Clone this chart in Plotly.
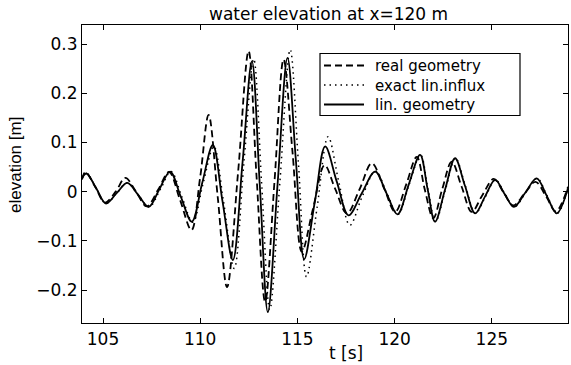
import plotly.graph_objects as go

# ---- data (t [s], elevation [m]) ----
t_real = [103.92, 104.1, 104.6, 105.1, 105.65, 106.15, 106.7, 107.25, 107.85, 108.4,
          108.95, 109.55, 110.0, 110.43, 110.9, 111.38, 111.95, 112.49, 112.9, 113.34,
          113.82, 114.29, 114.75, 115.23, 115.8, 116.4, 116.95, 117.55, 118.2, 118.83,
          119.45, 120.03, 120.6, 121.14, 121.55, 121.99, 122.45, 122.94, 123.45, 123.97,
          124.5, 125.1, 125.6, 126.1, 126.7, 127.25, 127.8, 128.3, 128.92]
y_real = [0.025, 0.04, 0.01, -0.022, 0.0, 0.028, 0.0, -0.03, 0.005, 0.04,
          -0.015, -0.078, 0.03, 0.156, -0.01, -0.194, 0.04, 0.286, 0.03, -0.224,
          0.02, 0.269, 0.08, -0.122, -0.035, 0.054, 0.005, -0.044, 0.005, 0.058,
          0.008, -0.041, 0.015, 0.071, 0.005, -0.054, 0.005, 0.061, 0.01, -0.041,
          -0.008, 0.026, -0.001, -0.028, -0.003, 0.02, -0.01, -0.04, 0.01]

t_exact = [103.92, 104.15, 104.65, 105.15, 105.7, 106.25, 106.8, 107.38, 107.95, 108.5,
           109.05, 109.62, 110.15, 110.7, 111.2, 111.75, 112.25, 112.75, 113.17, 113.58,
           114.1, 114.63, 115.05, 115.47, 116.02, 116.58, 117.13, 117.7, 118.35, 119.02,
           119.6, 120.17, 120.75, 121.33, 121.72, 122.1, 122.62, 123.13, 123.64, 124.16,
           124.67, 125.19, 125.67, 126.16, 126.74, 127.33, 127.84, 128.36, 128.92]
y_exact = [0.028, 0.037, 0.007, -0.024, -0.003, 0.018, -0.006, -0.031, 0.005, 0.041,
           -0.01, -0.062, 0.017, 0.092, -0.02, -0.156, 0.06, 0.27, 0.01, -0.24,
           0.02, 0.289, 0.06, -0.173, -0.03, 0.112, 0.02, -0.068, -0.008, 0.042,
           -0.003, -0.046, 0.015, 0.075, 0.005, -0.061, 0.005, 0.068, 0.012, -0.044,
           -0.01, 0.024, -0.004, -0.031, -0.002, 0.027, -0.008, -0.044, 0.007]

t_lin = [103.92, 104.15, 104.65, 105.15, 105.7, 106.25, 106.8, 107.35, 107.9, 108.45,
         109.0, 109.57, 110.1, 110.65, 111.15, 111.68, 112.18, 112.66, 113.07, 113.48,
         113.98, 114.49, 114.92, 115.35, 115.9, 116.43, 117.03, 117.63, 118.3, 119.0,
         119.58, 120.15, 120.73, 121.31, 121.7, 122.08, 122.6, 123.11, 123.62, 124.14,
         124.65, 125.17, 125.65, 126.14, 126.72, 127.31, 127.82, 128.34, 128.92]
y_lin = [0.028, 0.037, 0.007, -0.024, -0.003, 0.018, -0.006, -0.031, 0.005, 0.041,
         -0.01, -0.061, 0.017, 0.095, -0.02, -0.139, 0.06, 0.265, 0.01, -0.245,
         0.015, 0.272, 0.065, -0.137, -0.02, 0.092, 0.02, -0.048, -0.004, 0.041,
         -0.003, -0.046, 0.015, 0.075, 0.005, -0.061, 0.005, 0.068, 0.012, -0.044,
         -0.01, 0.024, -0.004, -0.031, -0.002, 0.027, -0.008, -0.044, 0.007]

series_names = ["real geometry", "exact lin.influx", "lin. geometry"]
x_ticks = [105, 110, 115, 120, 125]
y_ticks = [-0.2, -0.1, 0, 0.1, 0.2, 0.3]
y_ticklabels = ["\u22120.2", "\u22120.1", "0", "0.1", "0.2", "0.3"]

FONT = "DejaVu Sans"
LEG_SIZE = 15

# plot area in pixels (for converting layout positions)
L, R, T, B = 82, 568, 25, 323
W, H = R - L, B - T


def px(x):
    return (x - L) / W


def py(y):
    return (B - y) / H


styles = [
    dict(color="black", width=1.8, dash="7px,4px"),
    dict(color="black", width=1.5, dash="1.5px,4px"),
    dict(color="black", width=1.8, dash="solid"),
]

fig = go.Figure()
for name, tx, ty, st in zip(series_names, [t_real, t_exact, t_lin],
                            [y_real, y_exact, y_lin], styles):
    fig.add_trace(go.Scatter(x=tx, y=ty, mode="lines", name=name, showlegend=False,
                             line=dict(shape="spline", smoothing=1.0, **st)))

axis_common = dict(showline=True, linecolor="black", linewidth=1.2, mirror="allticks",
                   ticks="inside", ticklen=5, tickcolor="black", showgrid=False,
                   zeroline=False, tickfont=dict(family=FONT, size=17, color="black"))

fig.update_xaxes(range=[103.92, 128.92], tickvals=x_ticks, ticktext=[str(v) for v in x_ticks],
                 **axis_common)
fig.update_yaxes(range=[-0.267, 0.339], tickvals=y_ticks, ticktext=y_ticklabels,
                 **axis_common)

fig.update_layout(
    width=571, height=365,
    margin=dict(l=L, r=571 - R, t=T, b=365 - B),
    paper_bgcolor="white", plot_bgcolor="white",
    font=dict(family=FONT, color="black"),
    showlegend=False,
)

# title and axis labels
fig.add_annotation(text="water elevation at x=120 m", xref="paper", yref="paper",
                   x=px(328), y=py(14), showarrow=False,
                   font=dict(family=FONT, size=17), xanchor="center", yanchor="middle")
fig.add_annotation(text="t [s]", xref="paper", yref="paper",
                   x=px(346), y=py(353), showarrow=False,
                   font=dict(family=FONT, size=17), xanchor="center", yanchor="middle")
fig.add_annotation(text="elevation [m]", xref="paper", yref="paper",
                   x=px(15), y=py(165), showarrow=False, textangle=-90,
                   font=dict(family="Liberation Sans", size=17), xanchor="center", yanchor="middle")

# compact legend box like the reference
line_gap = LEG_SIZE * 1.3
row_mid = 85
row_y = [row_mid - line_gap, row_mid, row_mid + line_gap]
fig.add_shape(type="rect", xref="paper", yref="paper",
              x0=px(320), x1=px(520), y0=py(row_y[2] + 11), y1=py(row_y[0] - 12),
              line=dict(color="black", width=1.2), fillcolor="white", layer="above")
for st, ry in zip(styles, row_y):
    fig.add_shape(type="line", xref="paper", yref="paper",
                  x0=px(324), x1=px(364), y0=py(ry), y1=py(ry),
                  line=st, layer="above")
fig.add_annotation(text="<br>".join(series_names), xref="paper", yref="paper",
                   x=px(373), y=py(row_mid), showarrow=False, xanchor="left", yanchor="middle",
                   align="left", font=dict(family=FONT, size=LEG_SIZE))

fig.write_html("out.html")
